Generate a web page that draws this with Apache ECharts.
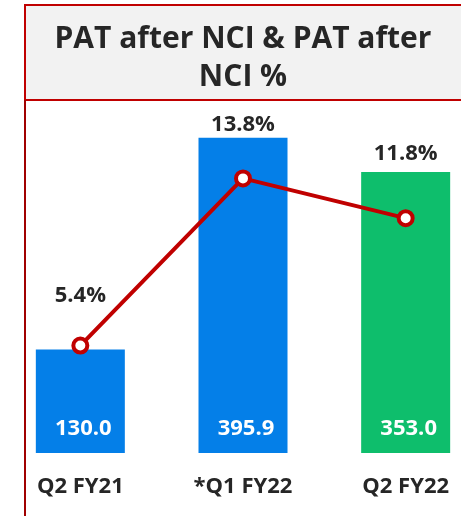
<!DOCTYPE html>
<html>
<head>
<meta charset="utf-8">
<script src="https://cdn.jsdelivr.net/npm/echarts@6/dist/echarts.min.js"></script>
<style>
  html, body { margin: 0; padding: 0; background: #fff; }
  #chart { width: 461px; height: 516px; }
</style>
</head>
<body>
<div id="chart"></div>
<script>
const categories = ['Q2 FY21', '*Q1 FY22', 'Q2 FY22']
const patValues = [130.0, 395.9, 353.0]
const patPercent = [5.4, 13.8, 11.8]
const barColors = ['#047FE8', '#047FE8', '#0EBE6C']
// extra lift for each % label above its point
const pctLabelOffsets = [0, 4, 14]

const textColor = '#262626'
const red = '#C00000'
const font = '"Open Sans", "Noto Sans", sans-serif'

const chart = echarts.init(document.getElementById('chart'))

const option = {
  backgroundColor: '#ffffff',
  animation: false,
  graphic: [
    {
      type: 'rect',
      shape: { x: 25, y: 5, width: 460, height: 95 },
      style: { fill: '#F2F2F2', stroke: red, lineWidth: 2 },
      z: 0
    },
    {
      type: 'line',
      shape: { x1: 25, y1: 100, x2: 25, y2: 516 },
      style: { stroke: '#A00000', lineWidth: 2 }
    },
    {
      type: 'text',
      x: 243,
      y: 58,
      style: {
        text: 'PAT after NCI & PAT after\nNCI %',
        fill: textColor,
        font: 'bold 30px ' + font,
        lineHeight: 38,
        align: 'center',
        verticalAlign: 'middle'
      },
      z: 10
    }
  ],
  grid: {
    left: -1,
    width: 488,
    top: 55,
    bottom: 63,
    outerBoundsMode: 'none'
  },
  xAxis: {
    type: 'category',
    data: categories,
    axisLine: { show: false },
    axisTick: { show: false },
    axisLabel: {
      color: textColor,
      fontFamily: font,
      fontWeight: 'bold',
      fontSize: 22,
      margin: 23
    }
  },
  yAxis: [
    { type: 'value', min: 0, max: 500, show: false, splitLine: { show: false } },
    { type: 'value', min: 0, max: 20, show: false, splitLine: { show: false } }
  ],
  series: [
    {
      name: 'PAT after NCI',
      type: 'bar',
      barWidth: 89,
      data: patValues.map((v, i) => ({ value: v, itemStyle: { color: barColors[i] } })),
      label: {
        show: true,
        position: 'insideBottom',
        distance: 13,
        offset: [3, 0],
        color: '#ffffff',
        fontFamily: font,
        fontWeight: 'bold',
        fontSize: 22,
        formatter: p => p.value.toFixed(1)
      },
      z: 2
    },
    {
      name: 'PAT after NCI %',
      type: 'line',
      yAxisIndex: 1,
      data: patPercent.map((v, i) => ({
        value: v,
        label: { offset: [0, -pctLabelOffsets[i]] }
      })),
      symbol: 'circle',
      symbolSize: 14,
      showAllSymbol: true,
      lineStyle: { color: red, width: 4 },
      itemStyle: { color: '#ffffff', borderColor: red, borderWidth: 4 },
      label: {
        show: true,
        position: 'top',
        distance: 30,
        color: textColor,
        fontFamily: font,
        fontWeight: 'bold',
        fontSize: 22,
        formatter: p => p.value.toFixed(1) + '%'
      },
      z: 5
    }
  ]
}

chart.setOption(option)
</script>
</body>
</html>
